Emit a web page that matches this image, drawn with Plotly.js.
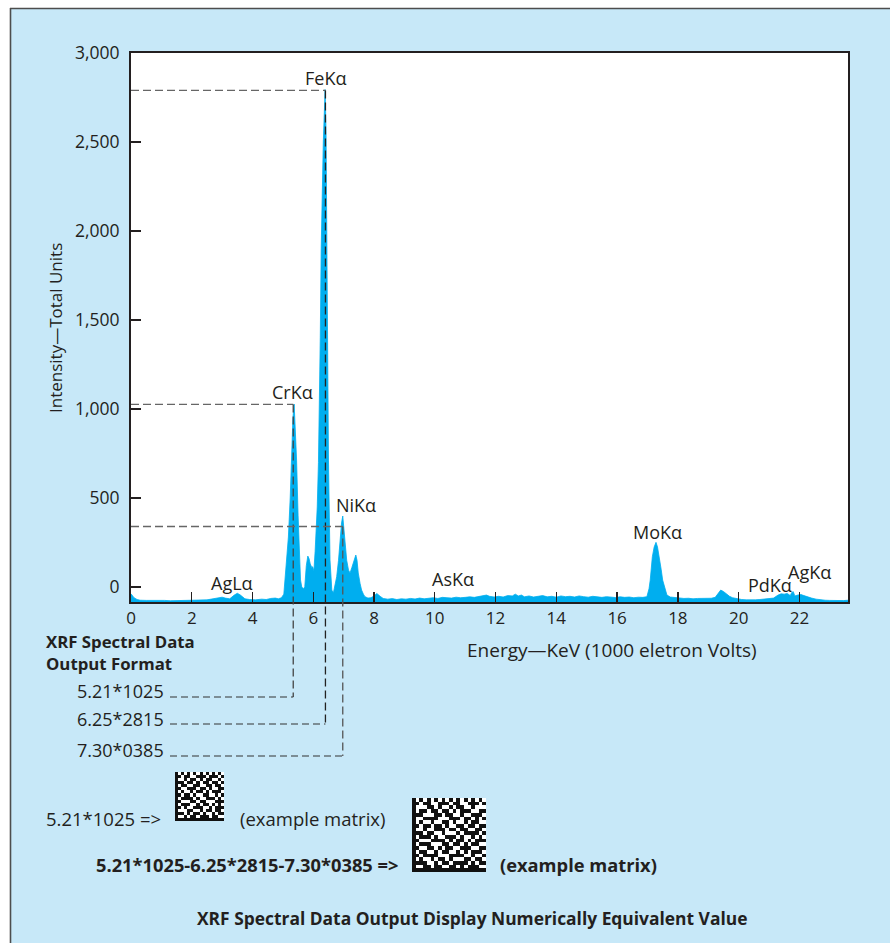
<!DOCTYPE html>
<html><head><meta charset="utf-8">
<script src="https://cdn.plot.ly/plotly-3.0.1.min.js"></script>
<style>html,body{margin:0;padding:0;background:#fff;}#chart{width:890px;height:943px;}</style>
</head><body><div id="chart"></div>
<script>
// ---- data ----
const energy = [0.00,0.05,0.10,0.20,0.30,0.50,0.70,0.90,1.10,1.30,1.50,1.70,1.90,2.10,2.30,2.50,2.70,2.90,3.00,3.10,3.25,3.40,3.50,3.60,3.75,3.90,4.10,4.30,4.45,4.60,4.75,4.85,4.95,
5.03,5.10,5.18,5.24,5.29,5.33,5.37,5.41,5.45,5.50,5.54,5.58,5.62,5.68,5.72,5.77,5.82,5.86,5.90,5.95,5.98,6.02,
6.06,6.09,6.13,6.17,6.20,6.23,6.26,6.29,6.33,6.36,6.39,6.42,6.45,6.47,6.50,6.55,6.61,6.66,6.72,6.77,6.83,6.88,6.93,6.97,7.01,7.05,7.10,7.16,7.21,7.27,7.33,7.40,7.44,7.48,7.54,7.59,7.65,7.70,7.80,7.90,8.00,8.09,8.20,8.30,8.45,8.60,8.75,8.90,9.05,9.20,9.35,9.50,9.65,9.80,9.95,
10.10,10.25,10.40,10.55,10.70,10.85,11.00,11.15,11.30,11.45,11.60,11.70,11.80,11.95,12.10,12.25,12.40,12.55,12.65,12.75,12.85,12.95,13.10,13.25,13.40,13.55,13.70,13.85,14.00,14.15,14.30,14.45,14.60,14.75,14.90,15.05,15.20,15.35,15.50,15.65,15.80,15.95,16.10,16.25,16.40,16.55,16.70,16.85,16.98,
17.05,17.09,17.16,17.22,17.28,17.33,17.39,17.45,17.50,17.57,17.64,17.75,17.90,18.05,18.20,18.35,18.50,18.65,18.80,18.95,19.10,19.23,19.32,19.41,19.50,19.60,19.70,19.80,19.95,
20.10,20.25,20.40,20.55,20.70,20.85,21.00,21.15,21.30,21.40,21.50,21.60,21.70,21.75,21.80,21.85,21.95,22.05,22.15,22.25,22.40,22.55,22.70,22.85,23.00,23.15,23.30,23.45,23.60];
const intensity = [-38,-50,-60,-70,-74,-75,-74,-76,-75,-77,-76,-75,-76,-74,-75,-72,-66,-60,-57,-62,-66,-45,-35,-45,-66,-70,-72,-68,-70,-64,-62,-66,-60,
-40,100,281,500,786,950,1028,900,713,400,152,40,0,-10,2,120,174,160,130,110,114,90,
200,283,450,700,960,1400,1900,2280,2500,2650,2795,2550,1600,1000,713,152,-17,-34,20,58,150,264,360,399,330,226,150,95,79,110,150,180,150,79,20,-17,-40,-54,-62,-60,-50,-36,-52,-64,-68,-65,-70,-66,-68,-64,-67,-62,-66,-63,-60,
-64,-58,-60,-62,-57,-60,-58,-55,-58,-54,-50,-45,-52,-56,-52,-56,-48,-50,-40,-50,-45,-55,-50,-56,-52,-48,-55,-52,-57,-50,-54,-52,-56,-50,-54,-57,-52,-55,-58,-54,-56,-59,-55,-58,-56,-60,-57,-58,-54,
-10,39,170,225,251,225,170,100,39,-10,-45,-56,-60,-62,-64,-63,-66,-64,-65,-66,-63,-58,-35,-17,-25,-40,-52,-60,-66,
-70,-72,-73,-72,-70,-68,-66,-62,-45,-38,-40,-36,-48,-30,-26,-50,-45,-42,-48,-55,-62,-68,-72,-74,-75,-76,-75,-76,-74];

const yTickVals = [0,500,1000,1500,2000,2500,3000];
const yTickText = ['0','500','1,000','1,500','2,000','2,500','3,000'];
const xTickVals = [0,2,4,6,8,10,12,14,16,18,20,22];
const xTickText = ['0','2','4','6','8','10','12','14','16','18','20','22'];

const peakLabels = ['FeKα','CrKα','NiKα','MoKα','AsKα','AgLα','PdKα','AgKα'];
const peakLabelX = [6.39,5.33,7.41,17.33,10.6,3.33,21.04,22.32];
const peakLabelY = [2860,1095,461,311,45,24,11,86];

const markedEnergy = [5.34,6.40,6.97];      // Cr, Fe, Ni
const markedIntensity = [1026,2790,340];
const outputLines = ['5.21*1025','6.25*2815','7.30*0385'];

const matrixSmall = [
'1010101010101010',
'1101100111011101',
'1001011010110010',
'1110110101101101',
'1011001100110110',
'1100111011010011',
'1010010110101110',
'1101101001100101',
'1011110100111010',
'1100011011000111',
'1011100101101010',
'1101001110010111',
'1000110010110110',
'1110101101001011',
'1001011011101100',
'1111111111111111'];
const matrixLarge = [
'10101010101010101010',
'11011001110110011101',
'10001101001011001000',
'10110110110101110011',
'11100011011001001110',
'10011110001110110101',
'10100100110100101100',
'11011011010011011011',
'10010011101101100110',
'11101100100010111101',
'10111010011101001010',
'11000111101011010111',
'10111000110110101100',
'11001101011001110011',
'10110010110010101110',
'11011110001111001001',
'10100101101000110110',
'11110010110111101011',
'10011011001101011100',
'11111111111111111111'];

// ---- layout helpers (page pixels -> paper) ----
const W = 890, H = 943;
const px = x => x / W;
const py = y => 1 - y / H;
const xDom = [px(131), px(848)];
const yDom = [py(602), py(53)];
const xRange = [0, 23.6];
const yRange = [-84, 3000];
const ex = e => xDom[0] + (e - xRange[0]) / (xRange[1] - xRange[0]) * (xDom[1] - xDom[0]);
const ey = v => yDom[0] + (v - yRange[0]) / (yRange[1] - yRange[0]) * (yDom[1] - yDom[0]);

const FONT = 'Open Sans, Noto Sans, sans-serif';
const INK = '#231F20';
const BLUE = '#00AEEF';
const BG = '#C7E8F8';

const toZ = rows => rows.map(r => r.split('').map(Number));

const traces = [
  {x:[xRange[0], xRange[1]], y:[yRange[0], yRange[0]], type:'scatter', mode:'lines',
   line:{width:0, color:BLUE}, hoverinfo:'skip', showlegend:false},
  {x:energy, y:intensity, type:'scatter', mode:'lines', fill:'tonexty', fillcolor:BLUE,
   line:{color:BLUE, width:0.8}, showlegend:false},
  {z:toZ(matrixSmall), type:'heatmap', xaxis:'x2', yaxis:'y2', showscale:false,
   colorscale:[[0,'#ffffff'],[1,'#111111']], zmin:0, zmax:1, hoverinfo:'skip'},
  {z:toZ(matrixLarge), type:'heatmap', xaxis:'x3', yaxis:'y3', showscale:false,
   colorscale:[[0,'#ffffff'],[1,'#111111']], zmin:0, zmax:1, hoverinfo:'skip'}
];

const shapes = [];
// outer frame: white margins on top and left, dark rule lines
shapes.push({type:'rect', xref:'paper', yref:'paper', x0:0, x1:1, y0:py(8), y1:1, fillcolor:'#ffffff', line:{width:0}});
shapes.push({type:'rect', xref:'paper', yref:'paper', x0:0, x1:px(10), y0:0, y1:1, fillcolor:'#ffffff', line:{width:0}});
shapes.push({type:'line', xref:'paper', yref:'paper', x0:px(10), x1:1, y0:py(8.5), y1:py(8.5), line:{color:'#4d4d4d', width:1.6}});
shapes.push({type:'line', xref:'paper', yref:'paper', x0:px(10.5), x1:px(10.5), y0:py(8), y1:0, line:{color:'#4d4d4d', width:1.6}});

const lowerEnds = [697, 724, 756];
const vColors = ['#444444','#222222','#555555'];
for (let i = 0; i < markedEnergy.length; i++) {
  // horizontal dashed from y axis to the peak
  shapes.push({type:'line', xref:'x', yref:'y', x0:xRange[0], x1:markedEnergy[i], y0:markedIntensity[i], y1:markedIntensity[i],
    line:{color:'#666666', width:1.3, dash:'8px,4px'}});
  // vertical dashed from peak down below the axis
  shapes.push({type:'line', xref:'paper', yref:'paper', x0:ex(markedEnergy[i]), x1:ex(markedEnergy[i]),
    y0:ey(markedIntensity[i]), y1:py(lowerEnds[i]), line:{color:vColors[i], width:1.3, dash:'8px,4px'}});
  // horizontal dashed leader to the output text
  shapes.push({type:'line', xref:'paper', yref:'paper', x0:px(170), x1:ex(markedEnergy[i]),
    y0:py(lowerEnds[i]), y1:py(lowerEnds[i]), line:{color:'#333333', width:1.2, dash:'7px,4px'}});
}

const ann = [];
for (let i = 0; i < peakLabels.length; i++) {
  ann.push({text:peakLabels[i], x:peakLabelX[i], y:peakLabelY[i], xref:'x', yref:'y', showarrow:false,
    xanchor:'center', yanchor:'middle', font:{family:FONT, size:18, color:INK}});
}
const pa = (text, x, y, size, opts) => Object.assign({text, x:px(x), y:py(y), xref:'paper', yref:'paper', showarrow:false,
  xanchor:'left', yanchor:'middle', font:{family:FONT, size:size, color:INK}}, opts || {});
ann.push(pa('Intensity—Total Units', 55, 328, 17, {xanchor:'center', textangle:-90}));
ann.push(pa('Energy—KeV (1000 eletron Volts)', 612, 650, 19, {xanchor:'center'}));
ann.push(pa('<b>XRF Spectral Data</b>', 44, 641, 16.8));
ann.push(pa('<b>Output Format</b>', 44, 663, 16.8));
const outY = [691, 719, 750];
for (let i = 0; i < outputLines.length; i++) ann.push(pa(outputLines[i], 166, outY[i], 18, {xanchor:'right'}));
ann.push(pa(outputLines[0] + ' =>', 44, 818, 18.5));
ann.push(pa('(example matrix)', 238, 818, 18.5));
ann.push(pa('<b>' + outputLines.join('-') + ' =></b>', 94, 864, 18.3));
ann.push(pa('<b>(example matrix)</b>', 498, 864, 18.3));
ann.push(pa('<b>XRF Spectral Data Output Display Numerically Equivalent Value</b>', 472, 918, 17.4, {xanchor:'center'}));

const hidden = {visible:false, fixedrange:true};
const layout = {
  width:W, height:H, margin:{l:0, r:0, t:0, b:0},
  paper_bgcolor:BG, plot_bgcolor:'#ffffff',
  showlegend:false, hovermode:false,
  font:{family:FONT, color:INK},
  xaxis:{domain:xDom, range:xRange, tickvals:xTickVals, ticktext:xTickText, ticks:'inside', ticklen:10, tickwidth:1.3,
    tickcolor:INK, showline:true, mirror:true, linecolor:INK, linewidth:2, showgrid:false, zeroline:false,
    tickfont:{family:FONT, size:17, color:INK}, ticklabelstandoff:0, fixedrange:true},
  yaxis:{domain:yDom, range:yRange, tickvals:yTickVals, ticktext:yTickText, ticks:'inside', ticklen:10, tickwidth:1.3,
    tickcolor:INK, showline:true, mirror:true, linecolor:INK, linewidth:2, showgrid:false, zeroline:false,
    tickfont:{family:FONT, size:17.5, color:INK}, ticklabelstandoff:6, fixedrange:true},
  xaxis2:Object.assign({domain:[px(175), px(224)], anchor:'y2'}, hidden),
  yaxis2:Object.assign({domain:[py(821), py(772)], anchor:'x2', autorange:'reversed'}, hidden),
  xaxis3:Object.assign({domain:[px(412), px(486)], anchor:'y3'}, hidden),
  yaxis3:Object.assign({domain:[py(872), py(798)], anchor:'x3', autorange:'reversed'}, hidden),
  shapes, annotations:ann
};
Plotly.newPlot('chart', traces, layout, {displayModeBar:false, staticPlot:true});
</script></body></html>
